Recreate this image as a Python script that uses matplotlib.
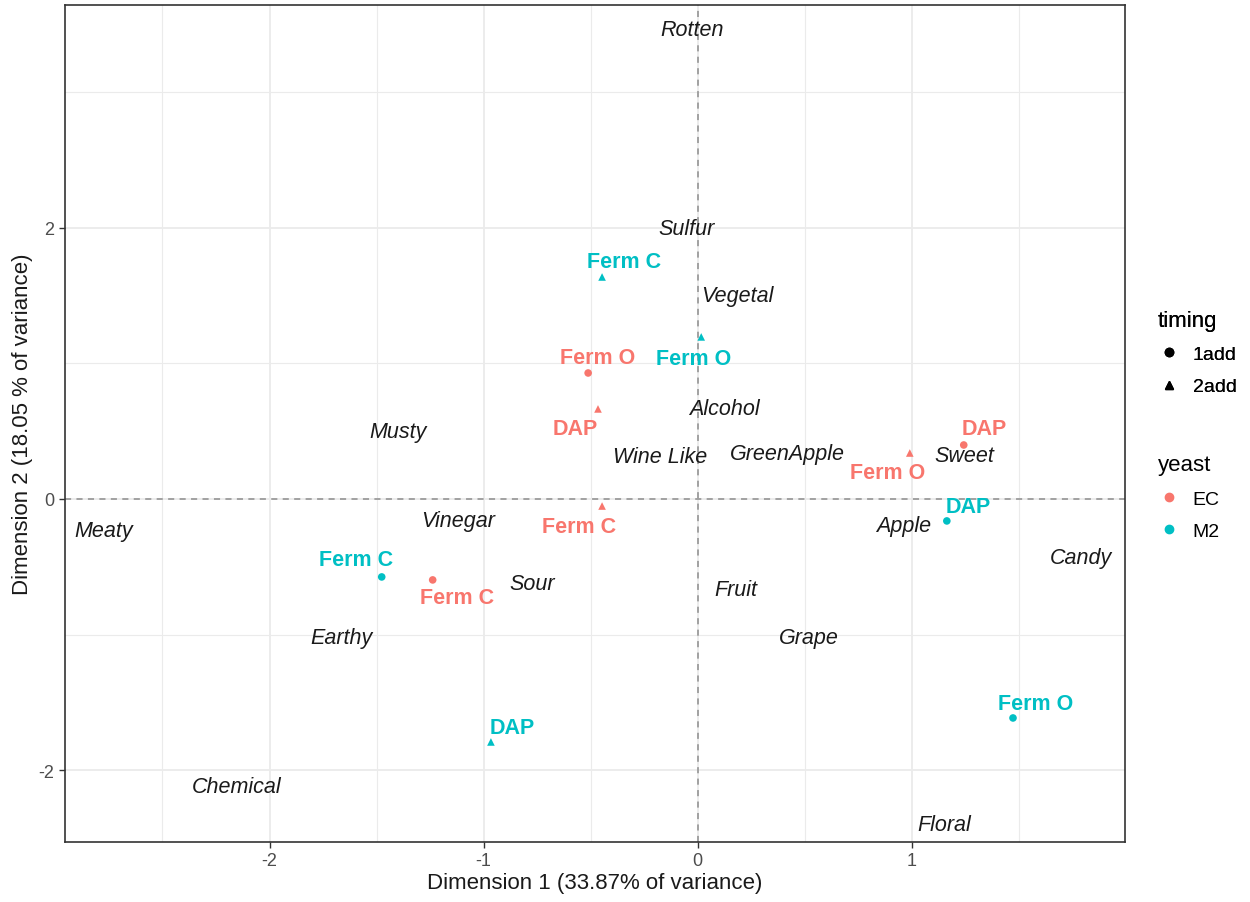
import matplotlib
matplotlib.use("Agg")
import matplotlib.pyplot as plt
from matplotlib.lines import Line2D
from matplotlib.ticker import MultipleLocator

plt.rcParams["font.family"] = ["Liberation Sans", "DejaVu Sans"]
plt.rcParams["axes.unicode_minus"] = False

# sample scores on the first two dimensions
yeast = ["EC", "EC", "EC", "EC", "EC", "EC", "M2", "M2", "M2", "M2", "M2", "M2"]
timing = ["1add", "2add", "2add", "1add", "2add", "1add",
          "2add", "2add", "1add", "1add", "2add", "1add"]
sample_label = ["Ferm O", "DAP", "Ferm C", "Ferm C", "Ferm O", "DAP",
                "Ferm C", "Ferm O", "DAP", "Ferm C", "DAP", "Ferm O"]
dim1 = [-0.512, -0.466, -0.447, -1.238, 0.990, 1.242,
        -0.447, 0.016, 1.163, -1.476, -0.966, 1.472]
dim2 = [0.929, 0.664, -0.052, -0.597, 0.339, 0.398,
        1.637, 1.195, -0.162, -0.575, -1.792, -1.615]

# sensory attribute coordinates
attributes = ["Rotten", "Sulfur", "Vegetal", "Alcohol", "Musty", "Wine Like",
              "GreenApple", "Sweet", "Meaty", "Vinegar", "Apple", "Candy",
              "Sour", "Fruit", "Earthy", "Grape", "Chemical", "Floral"]
attr_dim1 = [-0.026, -0.054, 0.185, 0.124, -1.401, -0.175,
             0.419, 1.247, -2.773, -1.121, 0.962, 1.790,
             -0.774, 0.180, -1.664, 0.517, -2.155, 1.149]
attr_dim2 = [3.459, 1.998, 1.497, 0.664, 0.501, 0.310,
             0.332, 0.317, -0.229, -0.162, -0.199, -0.428,
             -0.627, -0.671, -1.025, -1.025, -2.117, -2.404]

# repelled label offsets (pixels) for each sample
label_offset = [(9, 15), (-23, -20), (-23, -20), (24, -18), (-22, -20), (20, 16),
                (22, 15), (-8, -22), (21, 14), (-26, 17), (21, 14), (23, 14)]

colors = {"EC": "#F8766D", "M2": "#00BFC4"}
markers = {"1add": "o", "2add": "^"}

fig = plt.figure(figsize=(12.5, 9.03), dpi=100)
ax = fig.add_axes([0.052, 0.0664, 0.848, 0.927])

ax.set_xlim(-2.955, 1.995)
ax.set_ylim(-2.53, 3.643)
ax.xaxis.set_major_locator(MultipleLocator(1))
ax.xaxis.set_minor_locator(MultipleLocator(0.5))
ax.yaxis.set_major_locator(MultipleLocator(2))
ax.yaxis.set_minor_locator(MultipleLocator(1))
ax.set_axisbelow(True)
ax.grid(which="major", color="#EBEBEB", lw=1.3)
ax.grid(which="minor", color="#EBEBEB", lw=0.8)
ax.tick_params(which="minor", length=0)
ax.tick_params(which="major", length=4, width=1, color="#333333",
               labelsize=13, labelcolor="#4D4D4D")
for s in ax.spines.values():
    s.set_color("#333333")
    s.set_linewidth(1.2)

ax.axhline(0, color="#8E8E8E", ls=(0, (4, 3.5)), lw=1.1, zorder=2)
ax.axvline(0, color="#8E8E8E", ls=(0, (4, 3.5)), lw=1.1, zorder=2)

for x, y, name in zip(attr_dim1, attr_dim2, attributes):
    ax.text(x, y, name, ha="center", va="center", style="italic",
            fontsize=15.5, color="#1A1A1A", zorder=3)

for x, y, yst, tm, lab, off in zip(dim1, dim2, yeast, timing, sample_label, label_offset):
    ax.scatter(x, y, marker=markers[tm], s=30, color=colors[yst],
               edgecolors="none", zorder=4)
    ax.annotate(lab, (x, y), xytext=off, textcoords="offset pixels",
                ha="center", va="center", fontsize=15.5, fontweight="bold",
                color=colors[yst], zorder=5)

ax.set_xlabel("Dimension 1 (33.87% of variance)", fontsize=16, color="#1A1A1A", labelpad=2)
ax.set_ylabel("Dimension 2 (18.05 % of variance)", fontsize=16, color="#1A1A1A", labelpad=4)

timing_handles = [Line2D([], [], ls="none", marker=markers[t], color="black",
                         markersize=6) for t in ["1add", "2add"]]
yeast_handles = [Line2D([], [], ls="none", marker="o", color=colors[y],
                        markersize=6) for y in ["EC", "M2"]]

leg1 = fig.legend(timing_handles, ["1add", "2add"], title="timing",
                  loc="upper left", bbox_to_anchor=(0.912, 0.675),
                  frameon=False, fontsize=14, title_fontsize=16,
                  alignment="left", labelspacing=0.75, handletextpad=0.6,
                  handlelength=1.2)
leg2 = fig.legend(yeast_handles, ["EC", "M2"], title="yeast",
                  loc="upper left", bbox_to_anchor=(0.912, 0.515),
                  frameon=False, fontsize=14, title_fontsize=16,
                  alignment="left", labelspacing=0.75, handletextpad=0.6,
                  handlelength=1.2)
fig.add_artist(leg1)

fig.savefig("out.png", dpi=100, facecolor="white")
